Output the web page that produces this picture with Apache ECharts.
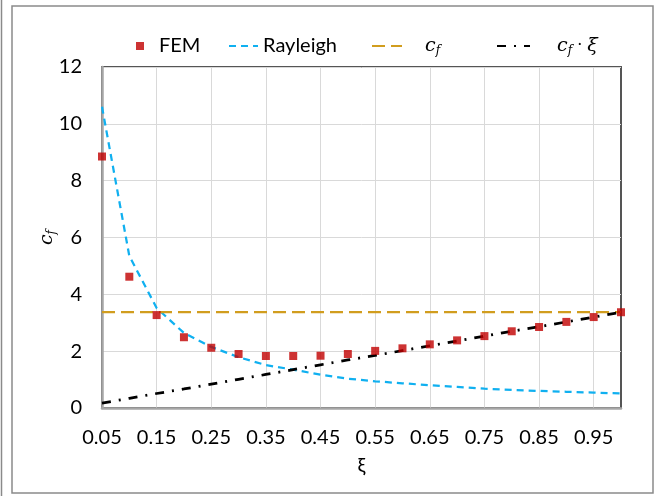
<!DOCTYPE html>
<html>
<head>
<meta charset="utf-8">
<script src="https://cdn.jsdelivr.net/npm/echarts@6/dist/echarts.min.js"></script>
<style>
html,body{margin:0;padding:0;background:#fff;}
#chart{width:655px;height:496px;}
</style>
</head>
<body>
<div id="chart"></div>
<script>
var categories = ['0.05','0.10','0.15','0.20','0.25','0.30','0.35','0.40','0.45','0.50','0.55','0.60','0.65','0.70','0.75','0.80','0.85','0.90','0.95','1.00'];
var femValues = [8.85,4.62,3.27,2.49,2.12,1.90,1.83,1.83,1.84,1.90,2.01,2.10,2.24,2.38,2.53,2.70,2.85,3.03,3.20,3.37];
var rayleighValues = [10.6,5.35,3.52,2.64,2.15,1.79,1.51,1.35,1.17,1.03,0.94,0.87,0.80,0.74,0.68,0.64,0.60,0.57,0.54,0.51];
var cfValues = [3.37,3.37,3.37,3.37,3.37,3.37,3.37,3.37,3.37,3.37,3.37,3.37,3.37,3.37,3.37,3.37,3.37,3.37,3.37,3.37];
var cfXiValues = [0.17,0.34,0.51,0.67,0.84,1.01,1.18,1.35,1.52,1.69,1.85,2.02,2.19,2.36,2.53,2.70,2.86,3.03,3.20,3.37];
var yMin = 0, yMax = 12, yStep = 2;

var mathRich = {
  c: {fontFamily: 'DejaVu Serif', fontStyle: 'italic', fontSize: 19, color: '#000'},
  f: {fontFamily: 'DejaVu Serif', fontStyle: 'italic', fontSize: 12, color: '#000', padding: [10,0,0,0]},
  t: {fontFamily: 'DejaVu Serif', fontSize: 16, color: '#000'}
};

var chart = echarts.init(document.getElementById('chart'), null, {renderer: 'canvas'});
var legendBase = {
  top: 30, itemHeight: 12, orient: 'horizontal',
  textStyle: {fontFamily: 'Lato', fontSize: 20, color: '#000', lineHeight: 22, rich: mathRich}
};
function mkLegend(name, left, w, pad, fmt, hideSym) {
  var l = JSON.parse(JSON.stringify(legendBase));
  l.data = [hideSym ? {name: name, itemStyle: {opacity: 0, borderWidth: 0}} : name];
  l.left = left; l.itemWidth = w;
  l.textStyle.padding = [0,0,0,pad];
  if (fmt) l.formatter = fmt;
  return l;
}
chart.setOption({
  animation: false,
  backgroundColor: '#fff',
  grid: {left: 102, right: 34, top: 67, bottom: 88, show: true, borderColor: '#555', borderWidth: 2},
  legend: [
    (function(){var l = mkLegend('FEM', 131, 8, 10); l.itemHeight = 8; return l;})(),
    mkLegend('Rayleigh', 223, 29, 0, null, true),
    mkLegend('cf', 366, 30, 18, '{c|c}{f|f}', true),
    mkLegend('cfxi', 491, 33, 22, '{c|c}{f|f}{t| · }{c|ξ}', true)
  ],
  xAxis: {
    type: 'category', data: categories, boundaryGap: false,
    name: 'ξ', nameLocation: 'middle', nameGap: 48, nameMoveOverlap: false,
    nameTextStyle: {fontFamily: 'Lato', fontSize: 20, color: '#000'},
    axisLine: {lineStyle: {color: '#a6a6a6', width: 2.5}},
    axisTick: {show: false},
    axisLabel: {interval: 1, margin: 20, fontFamily: 'Lato', fontSize: 20, color: '#000'},
    splitLine: {show: true, interval: 1, lineStyle: {color: '#d9d9d9', width: 1}}
  },
  yAxis: {
    type: 'value', min: yMin, max: yMax, interval: yStep,
    name: '{c|c}{f|f}', nameLocation: 'middle', nameGap: 44, nameMoveOverlap: false,
    nameTextStyle: {rich: mathRich},
    axisLine: {show: true, lineStyle: {color: '#a6a6a6', width: 2.5}},
    axisTick: {show: false},
    axisLabel: {margin: 20, fontFamily: 'Lato', fontSize: 20, color: '#000'},
    splitLine: {lineStyle: {color: '#d9d9d9', width: 1}}
  },
  series: [
    {name: 'FEM', type: 'scatter', data: femValues, symbol: 'rect', symbolSize: 8,
     itemStyle: {color: '#c00000'}, z: 5},
    {name: 'Rayleigh', type: 'line', data: rayleighValues, symbol: 'none', showSymbol: false,
     lineStyle: {color: '#10b0f0', width: 2.25, type: [7,5]}, itemStyle: {color: '#10b0f0'}, z: 3},
    {name: 'cf', type: 'line', data: cfValues, symbol: 'none', showSymbol: false,
     lineStyle: {color: '#d19d1e', width: 2.25, type: [13,6]}, itemStyle: {color: '#d19d1e'}, z: 3},
    {name: 'cfxi', type: 'line', data: cfXiValues, symbol: 'none', showSymbol: false,
     lineStyle: {color: '#000', width: 2.75, type: [9,8,2,8]}, itemStyle: {color: '#000'}, z: 4}
  ],
  graphic: [
    {type: 'rect', shape: {x: 12, y: 6, width: 641, height: 487}, style: {fill: null, stroke: '#8a8a8a', lineWidth: 1.5}, silent: true},
    {type: 'line', shape: {x1: 1.5, y1: 0, x2: 1.5, y2: 496}, style: {stroke: '#8a8a8a', lineWidth: 1.5}, silent: true}
  ]
});
</script>
</body>
</html>
